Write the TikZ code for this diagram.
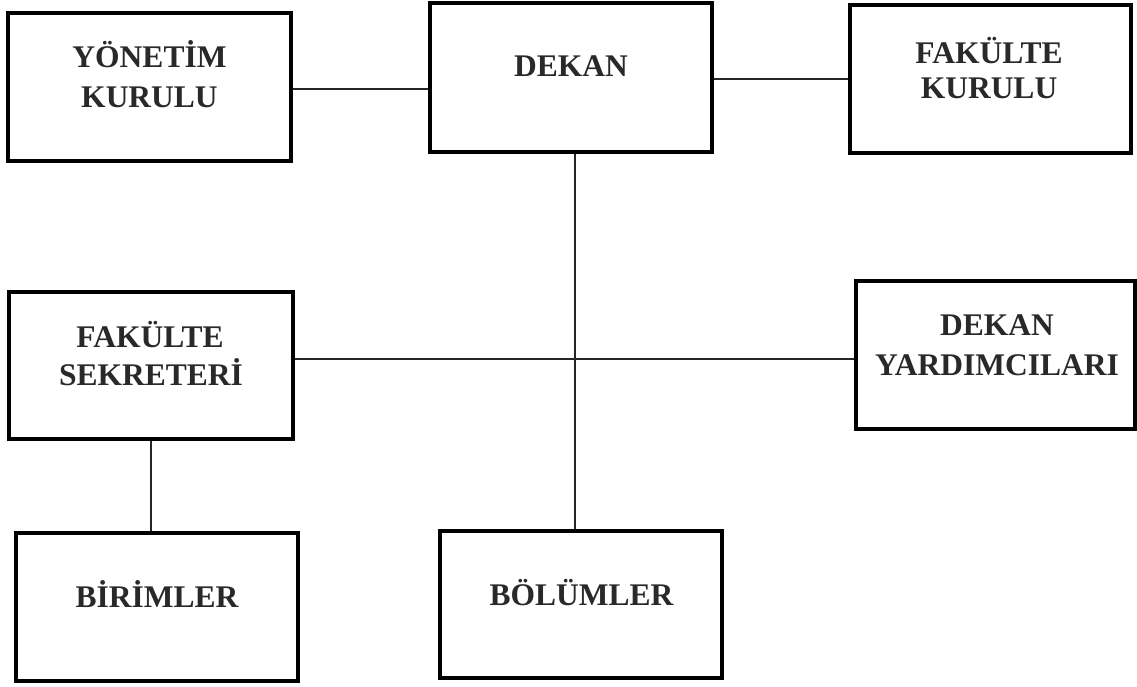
\documentclass[tikz,border=0pt]{standalone}
\usepackage{fontspec}
\setmainfont{Liberation Serif}
\begin{document}
\begin{tikzpicture}[x=1pt,y=-1pt,
  box/.style={draw=black,line width=3.1pt,inner sep=0pt,fill=white},
  lbl/.style={anchor=base,inner sep=0pt,text=black!84,font=\fontsize{31.5}{36}\selectfont\bfseries},
  conn/.style={draw=black!85,line width=1.3pt}]
\useasboundingbox[fill=white] (0,0) rectangle (1137,686);
% boxes
\node[box,minimum width=283pt,minimum height=148pt] (yk) at (149.5,87) {};
\node[box,minimum width=282pt,minimum height=149pt] (dk) at (571,77.5) {};
\node[box,minimum width=281pt,minimum height=148pt] (fk) at (990.5,79) {};
\node[box,minimum width=284pt,minimum height=147pt] (fs) at (151,365.5) {};
\node[box,minimum width=279pt,minimum height=148pt] (dy) at (995.5,355) {};
\node[box,minimum width=282pt,minimum height=148pt] (bi) at (157,607) {};
\node[box,minimum width=282pt,minimum height=147pt] (bo) at (581,604.5) {};
% connectors
\draw[conn] ([yshift=-2pt]yk.east) -- ([yshift=-2pt]yk.east -| dk.west);
\draw[conn] (fk.west) -- (fk.west -| dk.east);
\draw[conn] ([xshift=4pt]dk.south) -- ([xshift=4pt]dk.south |- bo.north);
\draw[conn] ([yshift=6.5pt]fs.east) -- ([yshift=6.5pt]fs.east -| dy.west);
\draw[conn] (fs.south) -- (fs.south |- bi.north);
% labels
\node[lbl] (yk1) at (149.5,67) {YÖNETİM};
\node[lbl] (yk2) at (149.5,107) {KURULU};
\node[lbl] (dk1) at (571,76) {DEKAN};
\node[lbl] (fk1) at (989,63) {FAKÜLTE};
\node[lbl] (fk2) at (989,98) {KURULU};
\node[lbl] (fs1) at (150,347) {FAKÜLTE};
\node[lbl] (fs2) at (151,385) {SEKRETERİ};
\node[lbl] (dy1) at (997,335) {DEKAN};
\node[lbl] (dy2) at (997,375) {YARDIMCILARI};
\node[lbl] (bi1) at (157,607) {BİRİMLER};
\node[lbl] (bo1) at (581.5,605) {BÖLÜMLER};
\end{tikzpicture}
\end{document}
